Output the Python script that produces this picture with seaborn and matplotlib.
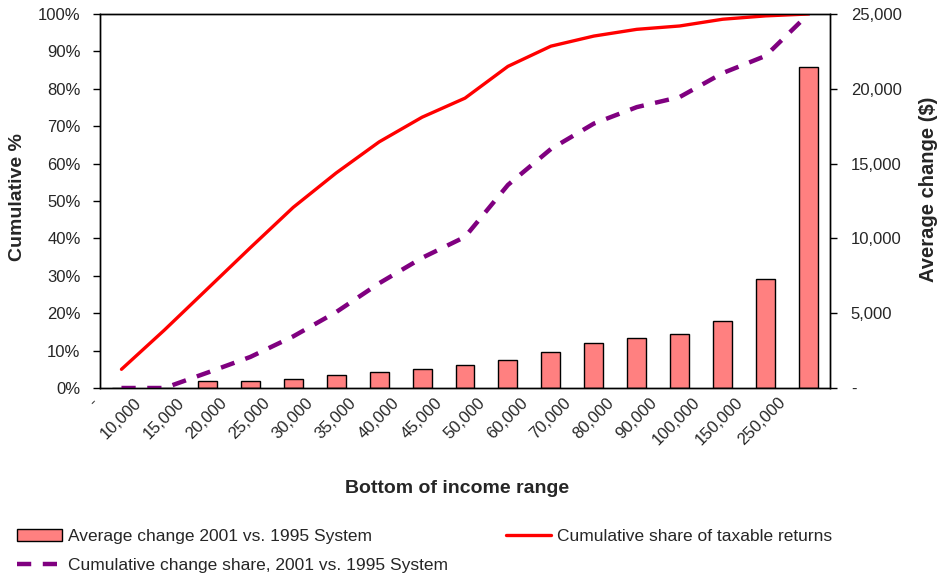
import numpy as np
import pandas as pd
import matplotlib
matplotlib.use("Agg")
import matplotlib.pyplot as plt
import matplotlib.transforms as mtransforms
from matplotlib.ticker import FuncFormatter, FixedLocator
import seaborn as sns

categories = ['-', '10,000', '15,000', '20,000', '25,000', '30,000', '35,000',
              '40,000', '45,000', '50,000', '60,000', '70,000', '80,000',
              '90,000', '100,000', '150,000', '250,000']
avg_change = [0, 0, 450, 460, 600, 850, 1050, 1250, 1560, 1850, 2430, 3010,
              3320, 3590, 4460, 7270, 21480]
cum_returns = [5.0, 15.5, 26.5, 37.5, 48.3, 57.5, 65.8, 72.4, 77.5, 86.0,
               91.4, 94.1, 95.9, 96.8, 98.6, 99.5, 100.0]
cum_change = [0.0, 0.0, 4.1, 8.3, 13.8, 20.3, 28.0, 34.8, 40.4, 54.3, 63.9,
              70.7, 75.1, 77.8, 84.2, 88.8, 100.0]

label_bar = "Average change 2001 vs. 1995 System"
label_red = "Cumulative share of taxable returns"
label_purple = "Cumulative change share, 2001 vs. 1995 System"

sns.set_style("white")
plt.rcParams['font.family'] = ['Liberation Sans', 'DejaVu Sans']

df = pd.DataFrame({"cat": categories, "avg": avg_change,
                   "pos": np.arange(len(categories)),
                   "ret": cum_returns, "chg": cum_change})

fig = plt.figure(figsize=(9.4, 5.77), dpi=100)
ax = fig.add_axes([100/940, 1-388/577, 730/940, 374/577])
ax2 = ax.twinx()

# bars on the right axis
sns.barplot(data=df, x="cat", y="avg", order=categories, ax=ax2,
            color="#FF8080", saturation=1, edgecolor="black", linewidth=1,
            width=0.44, label=label_bar)

# lines on the left axis
sns.lineplot(data=df, x="pos", y="ret", ax=ax, color="#FF0000", lw=2.4,
             sort=False, label=label_red)
sns.lineplot(data=df, x="pos", y="chg", ax=ax, color="#800080", lw=3.2,
             sort=False, label=label_purple, dashes=False)
ax.lines[1].set_dashes((3.2, 2.6))

ax.set_zorder(ax2.get_zorder() + 1)
ax.patch.set_visible(False)

n = len(categories)
ax.set_xlim(-0.5, n - 0.5)
ax.set_ylim(0, 100)
ax2.set_ylim(0, 25000)

ax.set_yticks(np.arange(0, 101, 10))
ax.yaxis.set_major_formatter(FuncFormatter(lambda v, p: f"{v:.0f}%"))
ax2.set_yticks(np.arange(0, 25001, 5000))
ax2.yaxis.set_major_formatter(FuncFormatter(lambda v, p: "-" if v == 0 else f"{int(v):,}"))

fs = 12
# x ticks: marks at category boundaries, labels near centers
ax.xaxis.set_major_locator(FixedLocator(np.arange(n)))
ax.set_xticklabels(categories, rotation=45, ha="right", fontsize=fs)
ax.xaxis.set_minor_locator(FixedLocator(np.arange(n + 1) - 0.5))
ax.tick_params(axis="x", which="major", length=0, pad=5)
ax.tick_params(axis="x", which="minor", length=5, width=1, color="black", direction="out")
offset = mtransforms.ScaledTranslation(-20/100, 0, fig.dpi_scale_trans)
for lab in ax.get_xticklabels():
    lab.set_transform(lab.get_transform() + offset)
ax2.tick_params(axis="x", which="both", length=0, labelbottom=False)
ax2.set_xlabel("")

ax.tick_params(axis="y", which="major", length=5, width=1, color="black",
               direction="out", pad=9, labelsize=fs, left=True)
ax2.tick_params(axis="y", which="major", length=5, width=1, color="black",
                direction="out", pad=10, labelsize=fs, right=True)

for a in (ax, ax2):
    for s in a.spines.values():
        s.set_visible(True)
        s.set_color("black")
        s.set_linewidth(1)

ax.set_xlabel("Bottom of income range", fontsize=14, fontweight="bold")
ax.xaxis.set_label_coords((457-100)/730, (388-480)/374)
ax.set_ylabel("Cumulative %", fontsize=14, fontweight="bold")
ax.yaxis.label.set_va("center")
ax.yaxis.set_label_coords((18-100)/730, 0.51)
ax2.set_ylabel("Average change ($)", fontsize=14.5, fontweight="bold")
ax2.yaxis.label.set_va("center")
ax2.yaxis.set_label_coords((928-100)/730, 0.532)

# legend
h_lines, _ = ax.get_legend_handles_labels()
h_bars, _ = ax2.get_legend_handles_labels()
if ax.get_legend():
    ax.get_legend().remove()
if ax2.get_legend():
    ax2.get_legend().remove()
handles = [h_bars[0], h_lines[1], h_lines[0]]
labels = [label_bar, label_purple, label_red]
fig.legend(handles, labels, ncol=2, loc="upper left",
           bbox_to_anchor=(17/940, 1-529/577), frameon=False, fontsize=12.5,
           borderpad=0, borderaxespad=0, handlelength=2.6, handletextpad=0.35,
           labelspacing=0.8, columnspacing=3.3)

fig.savefig("out.png", dpi=100)
